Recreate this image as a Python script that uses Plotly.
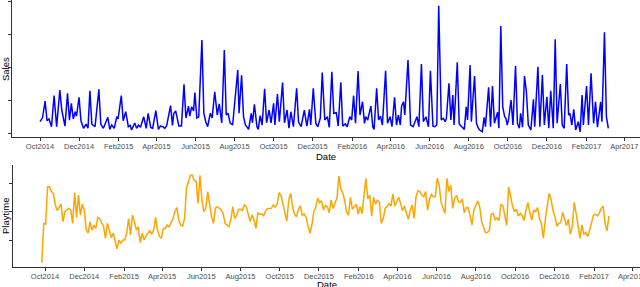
import pandas as pd
import plotly.graph_objects as go

# ---------------- data ----------------
sales_start = "2014-10-01"
# days since sales_start of each digitised vertex of the sales line
sales_day = [0, 4, 8, 11, 14, 18, 22, 26, 31, 34, 39, 43, 46, 49, 52, 55, 57, 61, 64, 68,
             72, 75, 78, 81, 86, 92, 95, 99, 106, 109, 112, 116, 120, 122, 127, 130, 134, 138, 141, 143,
             148, 151, 154, 157, 162, 166, 169, 173, 176, 181, 185, 188, 192, 195, 198, 204, 207, 209, 212, 215,
             217,
             221, 225, 228, 232, 234, 237, 240, 242, 245, 248, 253, 256, 259, 262, 266, 269, 273, 277, 280, 284,
             288, 291, 294, 297, 301, 305, 309, 311, 315, 318, 321, 326, 330, 332, 335, 339, 341, 344, 347, 351,
             354, 358, 361, 365, 367, 371, 374, 379, 382, 386, 389, 392, 396, 401, 404, 408, 413, 417, 421, 423,
             427, 431, 434, 438, 441,
             445, 449, 452, 456, 459, 463, 466, 470, 473, 477, 480, 484, 487, 490, 493, 497, 500, 504, 507, 509,
             512, 517, 520, 522, 526, 529, 532, 535, 540, 543, 547, 550, 554, 557, 560, 563, 565, 568, 570, 575,
             577, 579, 583, 589, 592, 596, 599, 603, 607, 610, 614, 617, 620, 623, 627, 630, 633, 635, 639, 642,
             645, 647, 652, 655, 659, 663, 666, 668,
             672, 674, 679, 682, 685, 687, 691, 694, 696, 701, 704, 707, 710, 715, 717, 720, 723, 726, 728, 730,
             732, 736, 739, 743, 746, 749, 751, 754, 757, 760, 763, 767, 771, 773, 778, 781, 785, 788, 792, 795,
             798, 802, 805, 808, 813, 816, 819, 823, 826, 828, 831, 834, 837, 841, 844, 847, 849, 854, 857, 861,
             865, 868, 871, 876, 878, 882, 885, 888]
sales = [88, 120, 245, 95, 110, 50, 286, 50, 329, 177, 55, 304, 100, 228, 110, 164, 130, 274, 95, 38,
         70, 38, 324, 70, 50, 334, 70, 38, 122, 30, 63, 38, 126, 110, 286, 95, 164, 50, 60, 25,
         78, 38, 63, 45, 126, 38, 152, 45, 38, 172, 30, 55, 50, 38, 60, 210, 60, 150, 170, 100,
         55,
         55, 372, 116, 207, 130, 202, 170, 309, 116, 125, 709, 154, 88, 50, 152, 116, 316, 139, 223, 80,
         633, 139, 152, 80, 63, 253, 481, 152, 441, 125, 63, 30, 152, 80, 220, 50, 30, 134, 63, 339,
         80, 177, 80, 228, 63, 299, 88, 385, 80, 177, 40, 164, 50, 342, 85, 50, 177, 55, 182, 63,
         342, 75, 50, 116, 461,
         101, 126, 46, 468, 152, 157, 55, 388, 55, 71, 50, 126, 101, 286, 76, 473, 139, 240, 76, 126,
         101, 207, 50, 30, 342, 101, 131, 63, 476, 76, 126, 50, 274, 63, 139, 63, 207, 240, 139, 557,
         329, 63, 50, 126, 50, 527, 88, 126, 50, 476, 55, 50, 63, 970, 101, 114, 88, 114, 380, 101,
         291, 63, 540, 71, 50, 30, 202, 101,
         519, 88, 435, 76, 38, 25, 12, 122, 50, 350, 50, 359, 76, 160, 38, 815, 202, 126, 114, 63,
         101, 253, 63, 511, 76, 38, 152, 46, 435, 316, 63, 25, 258, 50, 506, 50, 443, 63, 278, 38,
         324, 38, 714, 76, 375, 63, 38, 527, 139, 152, 63, 182, 25, 88, 12, 291, 63, 359, 63, 456,
         76, 240, 46, 240, 88, 767, 126, 38]

playtime_start = "2014-09-26"
playtime_freq = "3D"
playtime = [0.20, 1.59, 1.56, 2.88, 2.88, 2.71, 2.65, 2.24, 2.04, 2.18,
            2.27, 1.65, 2.00, 2.06, 2.12, 2.06, 1.59, 2.68, 1.80, 2.59,
            1.88, 2.27, 2.06, 1.38, 1.24, 1.65, 1.35, 1.53, 1.41, 1.80,
            1.76, 1.61, 1.49, 1.06, 1.59, 1.35, 1.08, 1.24, 0.98, 0.69,
            1.00, 0.88, 1.00, 1.00, 1.24, 1.76, 1.18, 1.88, 1.65, 1.35,
            1.47, 0.91, 1.24, 1.00, 1.14, 1.26, 1.33, 1.21, 1.35, 1.80,
            1.35, 1.12, 1.07, 1.41, 1.41, 1.53, 1.47, 1.61, 1.76, 2.00,
            2.15, 1.71, 1.53, 1.49, 1.76, 2.82, 3.06, 3.29, 3.29, 3.12,
            3.06, 2.29, 3.29, 2.41, 2.00, 2.12, 2.71, 2.29, 1.82, 1.59,
            2.12, 2.18, 2.12, 2.06, 1.94, 1.59, 1.53, 1.47, 1.73, 2.18,
            1.76, 1.88, 2.08, 2.09, 2.04, 2.24, 2.18, 1.88, 1.65, 1.88,
            1.71, 1.41, 1.96, 1.91, 1.92, 1.86, 2.02, 2.11, 2.12, 2.12,
            2.24, 2.16, 2.27, 2.67, 2.58, 2.29, 1.94, 1.67, 2.41, 2.65,
            2.18, 1.91, 1.82, 2.08, 2.21, 1.88, 1.92, 1.80, 1.49, 1.24,
            1.53, 2.00, 2.15, 2.48, 2.32, 2.39, 2.06, 2.22, 2.18, 1.96,
            2.41, 2.11, 2.32, 2.47, 3.26, 2.82, 2.65, 2.41, 1.98, 1.88,
            2.51, 2.09, 2.18, 2.27, 1.92, 2.18, 1.94, 2.59, 3.18, 2.45,
            2.59, 1.85, 2.51, 2.27, 2.41, 2.35, 1.59, 1.76, 2.12, 2.18,
            2.29, 2.20, 2.62, 2.20, 2.35, 2.51, 2.29, 2.04, 2.20, 1.92,
            1.73, 2.06, 2.24, 1.76, 2.53, 2.74, 2.71, 2.59, 2.53, 2.71,
            2.06, 2.45, 2.61, 2.53, 2.53, 3.18, 2.94, 2.32, 2.12, 1.94,
            3.18, 2.71, 2.94, 2.12, 2.47, 2.58, 2.35, 2.33, 2.44, 1.96,
            2.14, 2.15, 1.87, 1.53, 2.06, 2.21, 2.38, 2.18, 1.64, 1.46,
            1.26, 1.27, 1.33, 1.92, 1.94, 1.72, 1.78, 1.69, 2.25, 2.22,
            1.92, 1.52, 2.88, 2.48, 2.21, 2.00, 2.09, 1.85, 1.94, 1.87,
            1.69, 2.06, 2.32, 1.96, 1.71, 2.06, 2.00, 2.15, 1.74, 1.59,
            1.07, 1.71, 2.15, 2.65, 2.44, 2.04, 1.82, 1.49, 1.59, 1.61,
            1.98, 1.76, 1.51, 1.74, 1.21, 1.47, 2.33, 1.94, 1.49, 1.06,
            1.53, 1.21, 1.26, 1.12, 1.35, 1.68, 1.88, 1.91, 1.85, 1.94,
            2.12, 2.20, 1.59, 1.32, 1.85]

sales_ticks = [0, 250, 500, 750, 1000]
playtime_ticks = [1, 2, 3]

assert len(sales_day) == len(sales)

# ---------------- figure ----------------
W, H = 640, 287
base = pd.Timestamp(sales_start)
sales_dates = base + pd.to_timedelta(sales_day, unit="D")
play_dates = pd.date_range(playtime_start, periods=len(playtime), freq=playtime_freq)


def drange(a, b):
    fmt = "%Y-%m-%d %H:%M:%S"
    return [(base + pd.Timedelta(days=a)).strftime(fmt),
            (base + pd.Timedelta(days=b)).strftime(fmt)]


FONT = "Liberation Sans, Arial, Helvetica, sans-serif"
AX = "#333333"

fig = go.Figure()
fig.add_trace(go.Scatter(x=sales_dates, y=sales, mode="lines",
                         line=dict(color="#0000FF", width=1.5),
                         xaxis="x", yaxis="y", showlegend=False, hoverinfo="skip"))
fig.add_trace(go.Scatter(x=play_dates, y=playtime, mode="lines",
                         line=dict(color="#FFA500", width=1.5),
                         xaxis="x2", yaxis="y2", showlegend=False, hoverinfo="skip"))

xcommon = dict(type="date", dtick="M2", tick0="2014-10-01", tickformat="%b%Y",
               ticks="outside", ticklen=3, tickwidth=1, tickcolor=AX,
               showline=True, linecolor=AX, linewidth=1, showgrid=False, zeroline=False,
               tickfont=dict(family=FONT, size=7.5, color="#4D4D4D"),
               ticklabelstandoff=-1,
               ticklabeloverflow="allow", automargin=False)
ycommon = dict(ticks="outside", ticklen=3, tickwidth=1, tickcolor=AX,
               showline=True, linecolor=AX, linewidth=1, showgrid=False, zeroline=False,
               showticklabels=False, automargin=False)

fig.update_layout(
    template="none",
    width=W, height=H,
    margin=dict(l=0, r=0, t=0, b=0, autoexpand=False),
    paper_bgcolor="white", plot_bgcolor="white",
    xaxis=dict(domain=[12 / W, 1], anchor="y", range=drange(-43.75, 937.5), **xcommon),
    yaxis=dict(domain=[1 - 137 / H, 1], anchor="x", range=[-28, 1013],
               tickvals=sales_ticks, **ycommon),
    xaxis2=dict(domain=[13 / W, 1], anchor="y2", range=drange(-49.8, 925.3), **xcommon),
    yaxis2=dict(domain=[1 - 267 / H, 1 - 165 / H], anchor="x2", range=[0.048, 3.65],
                tickvals=playtime_ticks, **ycommon),
    annotations=[
        dict(text="Date", x=(12 + W) / 2 / W, y=1 - 156 / H, xref="paper", yref="paper",
             showarrow=False, xanchor="center", yanchor="middle",
             font=dict(family=FONT, size=9.5, color="black")),
        dict(text="Date", x=(13 + W) / 2 / W, y=1 - 284 / H, xref="paper", yref="paper",
             showarrow=False, xanchor="center", yanchor="middle",
             font=dict(family=FONT, size=9.5, color="black")),
        dict(text="Sales", x=5 / W, y=1 - 69 / H, xref="paper", yref="paper", textangle=-90,
             showarrow=False, xanchor="center", yanchor="middle",
             font=dict(family=FONT, size=9.5, color="black")),
        dict(text="Playtime", x=5 / W, y=1 - 216 / H, xref="paper", yref="paper", textangle=-90,
             showarrow=False, xanchor="center", yanchor="middle",
             font=dict(family=FONT, size=9.5, color="black")),
    ],
)

# remove the browser's default 8px page margin so the 640x287 figure fills the window
fig.write_html("out.html", config={"displayModeBar": False},
               post_script="document.body.style.margin='0';document.body.style.overflow='hidden';")
